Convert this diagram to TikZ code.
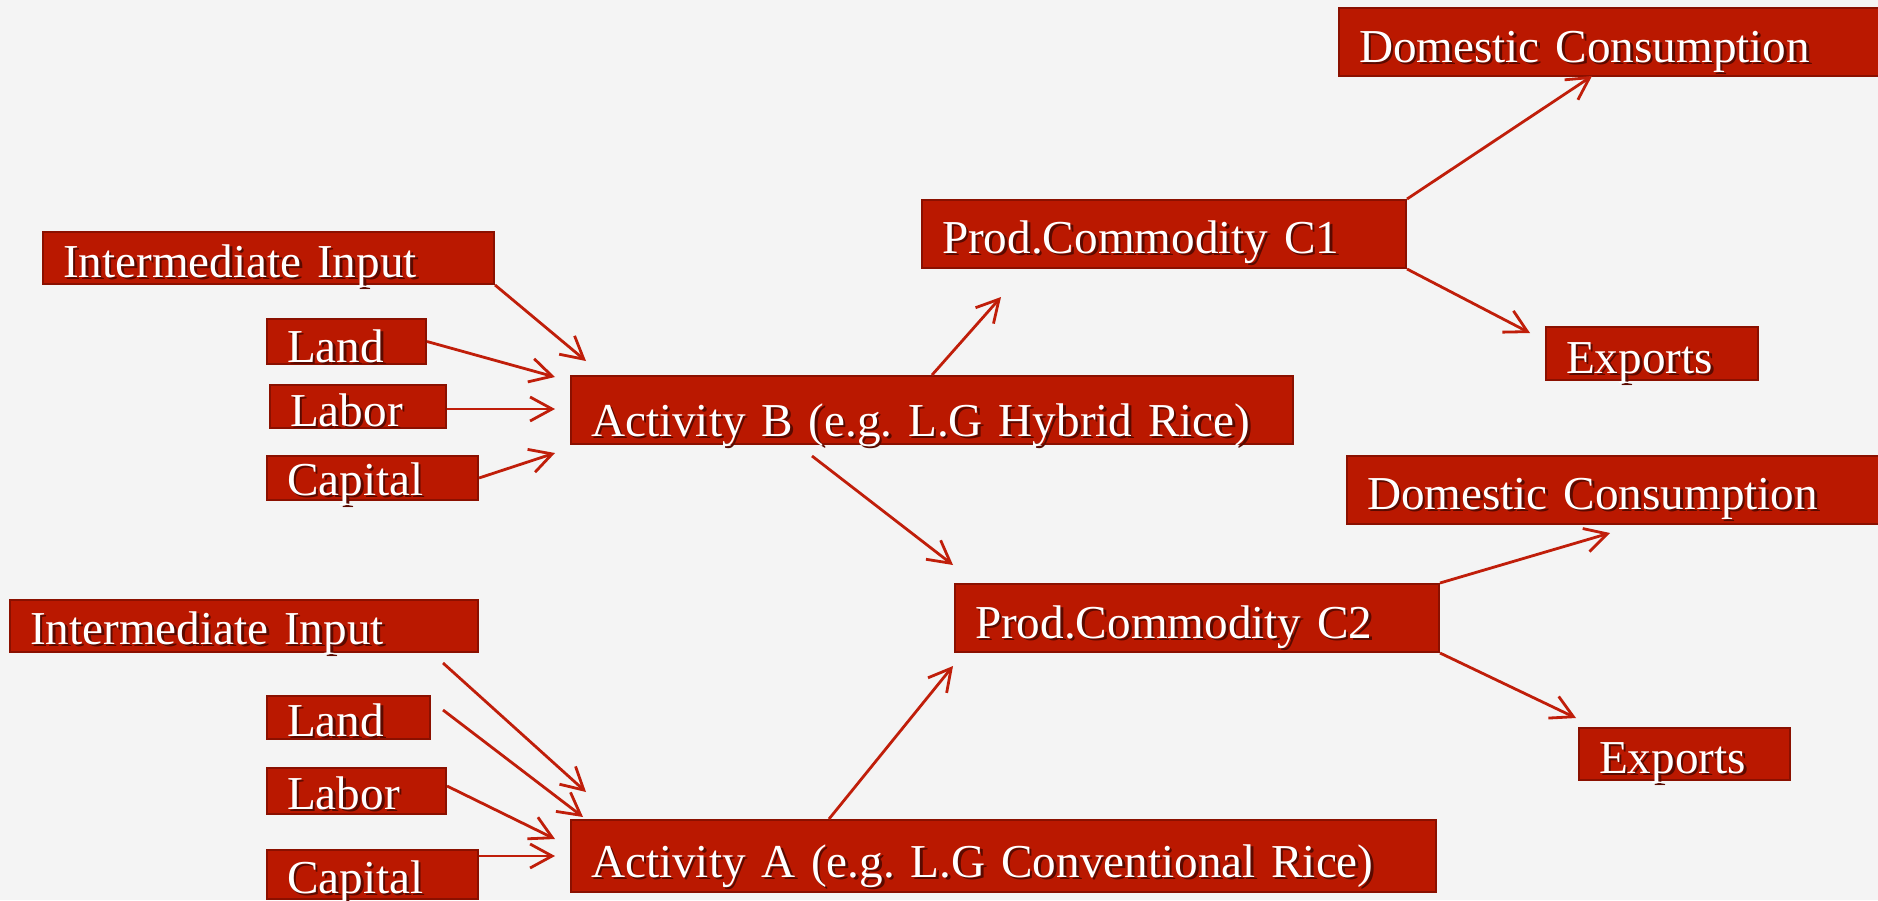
\documentclass[tikz,border=0pt]{standalone}
\usepackage{fontspec}
\setmainfont{Liberation Serif}
\usetikzlibrary{arrows.meta,calc}
\definecolor{bgc}{HTML}{F4F4F4}
\definecolor{boxred}{HTML}{BA1800}
\definecolor{boxdark}{HTML}{8A1000}
\definecolor{arrc}{HTML}{C01E0A}
\definecolor{shadc}{HTML}{5A0A00}
\frenchspacing
\newcommand\shd[1]{\makebox[0pt][l]{\hspace{1.3pt}\raisebox{-1.3pt}{\textcolor{shadc}{#1}}}#1}
\newcommand\rbox[7]{%
  \pgfmathsetmacro\bw{(#4-#2)*0.5}%
  \pgfmathsetmacro\bt{(#5-#3-#6)*0.5}%
  \pgfmathsetmacro\bd{#6*0.5}%
  \pgfmathsetmacro\tw{\bw-20}%
  \node[box, text width=\tw pt, text height=\bt pt, text depth=\bd pt] (#1) at (#2,#3) {\shd{#7}};}
\tikzset{
  box/.style={anchor=north west, fill=boxred, draw=boxdark, line width=1pt,
    inner xsep=10pt, inner ysep=0pt, align=left, text=white,
    font=\fontsize{23.6}{28}\selectfont\frenchspacing},
  arr/.style={draw=arrc, line width=1.4pt, -{Straight Barb[length=11pt,width=12pt]}}
}
\begin{document}
\begin{tikzpicture}[x=0.5pt,y=-0.5pt]
\fill[bgc] (0,0) rectangle (1878,900);
\useasboundingbox (0,0) rectangle (1878,900);
% boxes
\rbox{dom1}{1338}{7}{1900}{75}{14}{Domestic Consumption}
\rbox{c1}{921}{199}{1405}{267}{15}{Prod.Commodity C1}
\rbox{exp1}{1545}{326}{1757}{379}{7}{Exports}
\rbox{actb}{570}{375}{1292}{443}{8}{Activity B (e.g. L.G Hybrid Rice)}
\rbox{int1}{42}{231}{493}{283}{7}{Intermediate Input}
\rbox{land1}{266}{318}{425}{363}{2}{Land}
\rbox{labor1}{269}{384}{445}{427}{2}{Labor}
\rbox{cap1}{266}{455}{477}{499}{5}{Capital}
\rbox{dom2}{1346}{455}{1900}{523}{15}{Domestic Consumption}
\rbox{c2}{954}{583}{1438}{651}{14}{Prod.Commodity C2}
\rbox{exp2}{1578}{727}{1789}{779}{7}{Exports}
\rbox{int2}{9}{599}{477}{651}{8}{Intermediate Input}
\rbox{land2}{266}{695}{429}{738}{3}{Land}
\rbox{labor2}{266}{767}{445}{813}{5}{Labor}
\rbox{cap2}{266}{849}{477}{898}{6}{Capital}
\rbox{acta}{570}{819}{1435}{891}{15}{Activity A (e.g. L.G Conventional Rice)}
% free ends
\coordinate (tI1) at (586,361);
\coordinate (tL1) at (555,377);
\coordinate (tB1) at (555,409);
\coordinate (tK1) at (555,453);
\coordinate (sI2) at (443,663);
\coordinate (tI2) at (586,792);
\coordinate (sL2) at (443,710);
\coordinate (tL2) at (583,817);
\coordinate (tB2) at (555,839);
\coordinate (tK2) at (555,856);
\coordinate (tC1) at (1001,297);
\coordinate (sB2) at (812,456);
\coordinate (tC2b) at (953,565);
\coordinate (tC2a) at (953,666);
\coordinate (tD1) at (1592,76);
\coordinate (tE1) at (1530,333);
\coordinate (tD2) at (1610,533);
\coordinate (tE2) at (1576,718);
% connectors
\draw[arr] (int1.south east) -- (tI1);
\draw[arr] (land1.east) -- (tL1);
\draw[arr] (labor1.east |- tB1) -- (tB1);
\draw[arr] (cap1.east) -- (tK1);
\draw[arr] (sI2) -- (tI2);
\draw[arr] (sL2) -- (tL2);
\draw[arr] ($(labor2.east)+(0,-5)$) -- (tB2);
\draw[arr] (cap2.east |- tK2) -- (tK2);
\draw[arr] ($(actb.north west)+(362,0)$) -- (tC1);
\draw[arr] (sB2) -- (tC2b);
\draw[arr] ($(acta.north west)+(259,0)$) -- (tC2a);
\draw[arr] (c1.north east) -- (tD1);
\draw[arr] (c1.south east) -- (tE1);
\draw[arr] (c2.north east) -- (tD2);
\draw[arr] (c2.south east) -- (tE2);
\end{tikzpicture}
\end{document}
